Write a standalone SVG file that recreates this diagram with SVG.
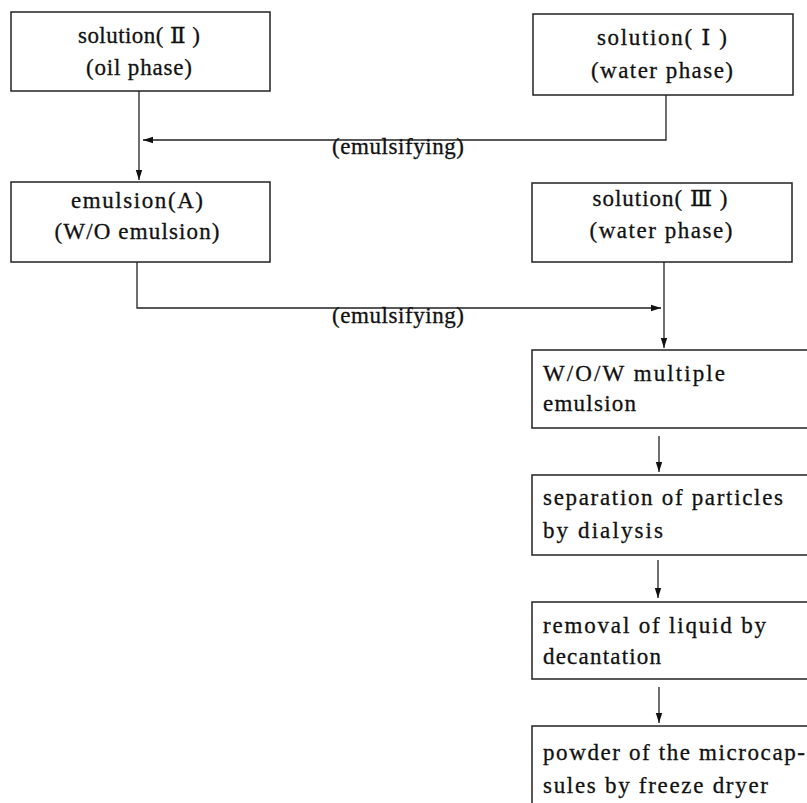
<svg xmlns="http://www.w3.org/2000/svg" width="807" height="803" viewBox="0 0 807 803">
<defs>
<marker id="ah" viewBox="0 0 10 8" refX="10" refY="4" markerWidth="10" markerHeight="8" markerUnits="userSpaceOnUse" orient="auto">
<path d="M0,0.8 L10,4 L0,7.2 Z" fill="#111"/>
</marker>
<style>
.box{fill:none;stroke:#222;stroke-width:1.5}
.ln{fill:none;stroke:#222;stroke-width:1.3}
.t{font-family:'Liberation Serif','DejaVu Serif','Times New Roman',serif;font-size:23px;fill:#111;stroke:#111;stroke-width:0.3}
.c{text-anchor:middle}
</style>
</defs>
<rect width="807" height="803" fill="#fff"/>
<g id="connectors">
<polyline class="ln" points="666,95 666,140 143,140" marker-end="url(#ah)"/>
<line class="ln" x1="139" y1="91" x2="139" y2="180" marker-end="url(#ah)"/>
<text class="t c" x="398" y="154" textLength="132" lengthAdjust="spacing">(emulsifying)</text>
<polyline class="ln" points="137,262 137,308 661,308" marker-end="url(#ah)"/>
<line class="ln" x1="664" y1="262" x2="664" y2="348" marker-end="url(#ah)"/>
<text class="t c" x="398" y="323" textLength="132" lengthAdjust="spacing">(emulsifying)</text>
<line class="ln" x1="659" y1="436" x2="659" y2="472" marker-end="url(#ah)"/>
<line class="ln" x1="658" y1="560" x2="658" y2="598" marker-end="url(#ah)"/>
<line class="ln" x1="659" y1="687" x2="659" y2="723" marker-end="url(#ah)"/>
</g>
<g id="solution2">
<rect class="box" x="11" y="12" width="259" height="79"/>
<text class="t c" x="139" y="43" textLength="122" lengthAdjust="spacing">solution( Ⅱ )</text>
<text class="t c" x="139" y="75" textLength="106" lengthAdjust="spacing">(oil phase)</text>
</g>
<g id="solution1">
<rect class="box" x="533" y="14" width="260" height="81"/>
<text class="t c" x="662" y="45" textLength="130" lengthAdjust="spacing">solution( Ⅰ )</text>
<text class="t c" x="662" y="78" textLength="142" lengthAdjust="spacing">(water phase)</text>
</g>
<g id="emulsionA">
<rect class="box" x="11" y="182" width="259" height="80"/>
<text class="t c" x="137" y="208" textLength="132" lengthAdjust="spacing">emulsion(A)</text>
<text class="t c" x="137" y="239" textLength="165" lengthAdjust="spacing">(W/O emulsion)</text>
</g>
<g id="solution3">
<rect class="box" x="532" y="183" width="260" height="79"/>
<text class="t c" x="660" y="206" textLength="135" lengthAdjust="spacing">solution( Ⅲ )</text>
<text class="t c" x="661" y="238" textLength="143" lengthAdjust="spacing">(water phase)</text>
</g>
<g id="wow">
<rect class="box" x="532" y="350" width="290" height="78"/>
<text class="t" x="543" y="381" textLength="182" lengthAdjust="spacing">W/O/W multiple</text>
<text class="t" x="543" y="411" textLength="93" lengthAdjust="spacing">emulsion</text>
</g>
<g id="separation">
<rect class="box" x="532" y="475" width="290" height="80"/>
<text class="t" x="543" y="505" textLength="240" lengthAdjust="spacing">separation of particles</text>
<text class="t" x="543" y="538" textLength="120" lengthAdjust="spacing">by dialysis</text>
</g>
<g id="removal">
<rect class="box" x="532" y="602" width="290" height="77"/>
<text class="t" x="543" y="633" textLength="223" lengthAdjust="spacing">removal of liquid by</text>
<text class="t" x="543" y="664" textLength="118" lengthAdjust="spacing">decantation</text>
</g>
<g id="powder">
<rect class="box" x="532" y="726" width="290" height="100"/>
<text class="t" x="543" y="760" textLength="262" lengthAdjust="spacing">powder of the microcap-</text>
<text class="t" x="543" y="793" textLength="225" lengthAdjust="spacing">sules by freeze dryer</text>
</g>
</svg>
